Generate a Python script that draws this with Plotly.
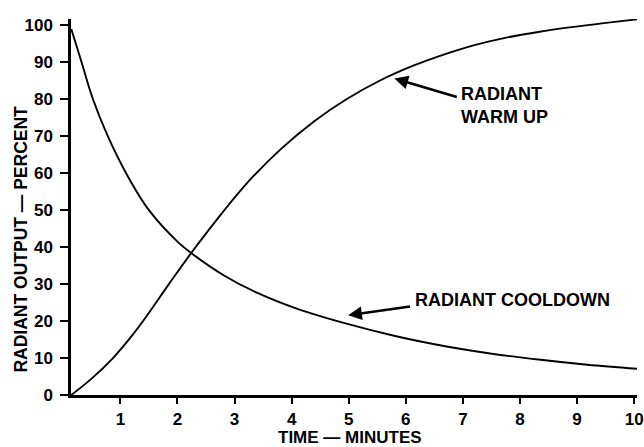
import plotly.graph_objects as go

# Time (minutes) and radiant output (percent)
cool_t = [0.14, 0.32, 0.52, 0.78, 1.10, 1.50, 2.00, 2.25, 2.83, 3.40, 4.10, 4.96, 5.83, 6.69, 7.45, 8.32, 9.18, 10.05]
cool_y = [99.0, 90.0, 80.0, 70.0, 60.0, 50.0, 41.5, 38.3, 32.2, 27.6, 23.3, 19.3, 15.9, 13.2, 11.3, 9.6, 8.2, 7.1]

warm_t = [0.14, 0.50, 0.87, 1.20, 1.42, 1.85, 2.25, 2.77, 3.23, 3.81, 4.39, 4.96, 5.54, 6.12, 6.69, 7.17, 7.74, 8.32, 8.90, 9.47, 10.05]
warm_y = [0.0, 4.5, 10.0, 16.0, 20.5, 30.0, 38.6, 49.0, 57.5, 66.5, 74.0, 80.0, 85.0, 89.0, 92.2, 94.5, 96.6, 98.2, 99.5, 100.6, 101.6]

x_ticks = [1, 2, 3, 4, 5, 6, 7, 8, 9, 10]
y_ticks = [0, 10, 20, 30, 40, 50, 60, 70, 80, 90, 100]

FONT = "Liberation Sans, Arial, Helvetica, sans-serif"

fig = go.Figure()
for t, y, name in [(cool_t, cool_y, "RADIANT COOLDOWN"), (warm_t, warm_y, "RADIANT WARM UP")]:
    fig.add_trace(go.Scatter(
        x=t, y=y, mode="lines", name=name,
        line=dict(color="black", width=1.9, shape="spline", smoothing=1.0),
        cliponaxis=False, showlegend=False, hoverinfo="skip",
    ))

axis_common = dict(
    showgrid=False, zeroline=False, showline=True, linecolor="black", linewidth=2.5,
    ticks="outside", tickcolor="black", tickwidth=2,
    tickfont=dict(family=FONT, size=17, color="black", weight="bold"),
    ticklabeloverflow="allow",
)

fig.update_xaxes(range=[0.135, 10.05], tickvals=x_ticks, ticktext=[str(v) for v in x_ticks],
                 ticklen=6, ticklabelstandoff=1, **axis_common)
fig.update_yaxes(range=[0, 101.7], tickvals=y_ticks, ticktext=[str(v) for v in y_ticks],
                 ticklen=8, ticklabelstandoff=4, **axis_common)

title_font = dict(family=FONT, size=17, color="black", weight="bold")
ann_font = dict(family=FONT, size=18, color="black", weight="bold")
annotations = [
    # axis titles
    dict(text="RADIANT OUTPUT — PERCENT", xref="paper", yref="paper", x=-0.089, y=0.415,
         textangle=-90, showarrow=False, xanchor="center", yanchor="middle",
         font=dict(family=FONT, size=17.5, color="black", weight="bold")),
    dict(text="TIME — MINUTES", xref="x", yref="paper", x=5.03, y=-0.113,
         showarrow=False, xanchor="center", yanchor="middle", font=title_font),
    # arrows
    dict(text="", x=5.80, y=85.6, ax=6.92, ay=80.5, xref="x", yref="y", axref="x", ayref="y",
         showarrow=True, arrowhead=2, arrowsize=1.1, arrowwidth=2.5, arrowcolor="black"),
    dict(text="", x=4.99, y=21.6, ax=6.10, ay=24.0, xref="x", yref="y", axref="x", ayref="y",
         showarrow=True, arrowhead=2, arrowsize=1.1, arrowwidth=2.5, arrowcolor="black"),
    # labels
    dict(text="RADIANT<br>WARM UP", x=6.94, y=78.2, xref="x", yref="y", showarrow=False,
         xanchor="left", yanchor="middle", align="left", font=ann_font),
    dict(text="RADIANT COOLDOWN", x=6.12, y=25.6, xref="x", yref="y", showarrow=False,
         xanchor="left", yanchor="middle", font=ann_font),
]

fig.update_layout(
    width=644, height=447,
    margin=dict(l=71, r=0, t=19, b=52, pad=0),
    plot_bgcolor="white", paper_bgcolor="white",
    annotations=annotations,
    showlegend=False,
)

fig.write_html("out.html", config={"displayModeBar": False},
               post_script="document.body.style.margin='0';")
